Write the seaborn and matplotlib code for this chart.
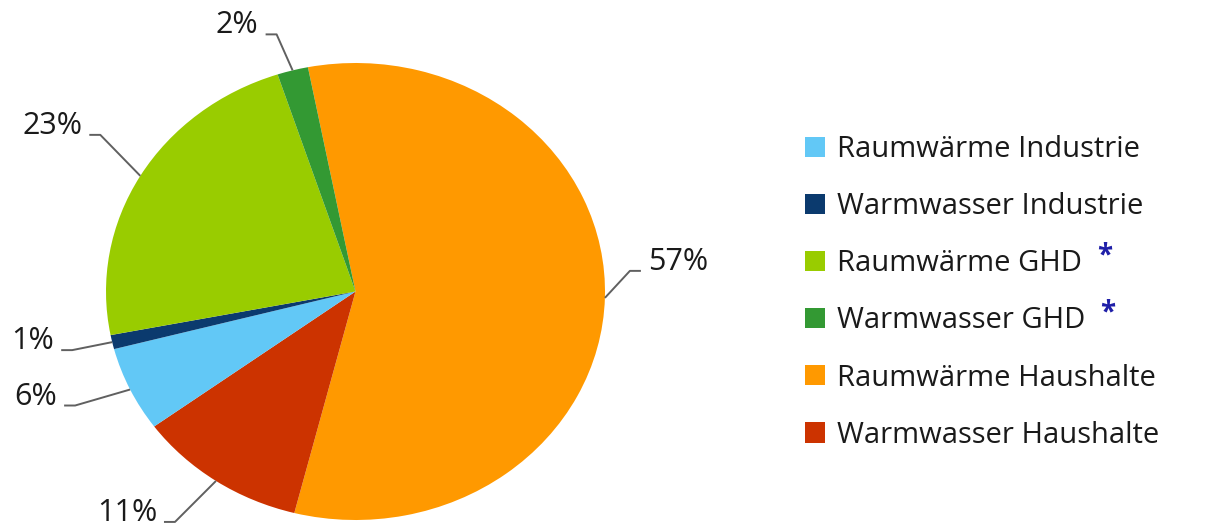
import numpy as np
import matplotlib
matplotlib.use("Agg")
import matplotlib.pyplot as plt
from matplotlib.patches import Patch
import seaborn as sns

# Wärmebedarf nach Sektor und Verwendung (Anteile in %)
categories = [
    "Raumwärme Haushalte",
    "Warmwasser Haushalte",
    "Raumwärme Industrie",
    "Warmwasser Industrie",
    "Raumwärme GHD",
    "Warmwasser GHD",
]
shares = [57, 11, 6, 1, 23, 2]
legend_order = [
    "Raumwärme Industrie",
    "Warmwasser Industrie",
    "Raumwärme GHD",
    "Warmwasser GHD",
    "Raumwärme Haushalte",
    "Warmwasser Haushalte",
]
starred = ["Raumwärme GHD", "Warmwasser GHD"]

colors = {
    "Raumwärme Industrie": "#62c8f6",
    "Warmwasser Industrie": "#0b3a6e",
    "Raumwärme GHD": "#99cc00",
    "Warmwasser GHD": "#339933",
    "Raumwärme Haushalte": "#ff9900",
    "Warmwasser Haushalte": "#cc3300",
}

# leader elbow offsets (pixels, dx right / dy down) for each slice label
label_offsets = [(25, -27), (-41, 41), (-55, 16), (-40, 8), (-40, -41), (-16, -36)]

sns.set_theme(style="white")
plt.rcParams["font.family"] = ["Open Sans", "DejaVu Sans"]

W, H = 1219, 529
fig = plt.figure(figsize=(W / 100, H / 100), dpi=100)
ax = fig.add_axes([0, 0, 1, 1])

palette = sns.color_palette([colors[c] for c in categories])
wedges, _ = ax.pie(
    shares,
    colors=palette,
    startangle=101,
    counterclock=False,
    radius=1.0,
    wedgeprops=dict(linewidth=0),
)

# pixel geometry of the (slightly elliptical) pie
cx, cy, rx, ry = 355.5, 291.5, 249.5, 228.5
ax.set_aspect("auto")
ax.set_xlim(-cx / rx, (W - cx) / rx)
ax.set_ylim((cy - H) / ry, cy / ry)
ax.axis("off")

def px(dx, dy):
    return dx / rx, -dy / ry

line_color = "#606060"
for w, val, (odx, ody) in zip(wedges, shares, label_offsets):
    mid = np.deg2rad((w.theta1 + w.theta2) / 2)
    ex, ey = np.cos(mid), np.sin(mid)
    ddx, ddy = px(odx, ody)
    bx, by = ex + ddx, ey + ddy
    side = 1 if odx > 0 else -1
    hx = bx + side * 11 / rx
    ax.plot([ex, bx, hx], [ey, by, by], color=line_color, lw=1.4,
            solid_capstyle="butt", clip_on=False)
    ax.text(hx + side * 7 / rx, by + 1 / ry, f"{val}%",
            ha="left" if side > 0 else "right", va="baseline",
            fontsize=22, color="#1a1a1a")

handles = [Patch(facecolor=colors[c], edgecolor="none") for c in legend_order]
leg = ax.legend(
    handles, legend_order,
    loc="upper left", bbox_to_anchor=(805 / W, 1 - 135 / H),
    bbox_transform=fig.transFigure,
    frameon=False, fontsize=21,
    handlelength=0.69, handleheight=0.69, handletextpad=0.40,
    labelspacing=0.965, borderaxespad=0, borderpad=0,
)
for t in leg.get_texts():
    t.set_color("#1a1a1a")

fig.canvas.draw()
renderer = fig.canvas.get_renderer()
inv = fig.transFigure.inverted()
for t in leg.get_texts():
    if t.get_text() in starred:
        bb = t.get_window_extent(renderer)
        x0, y0 = inv.transform((bb.x1 + 23, bb.y1 + 8))
        fig.text(x0, y0, "*", color="#1f1fa8", fontsize=20,
                 fontweight="bold", ha="center", va="top")

fig.savefig("out.png", dpi=100)
